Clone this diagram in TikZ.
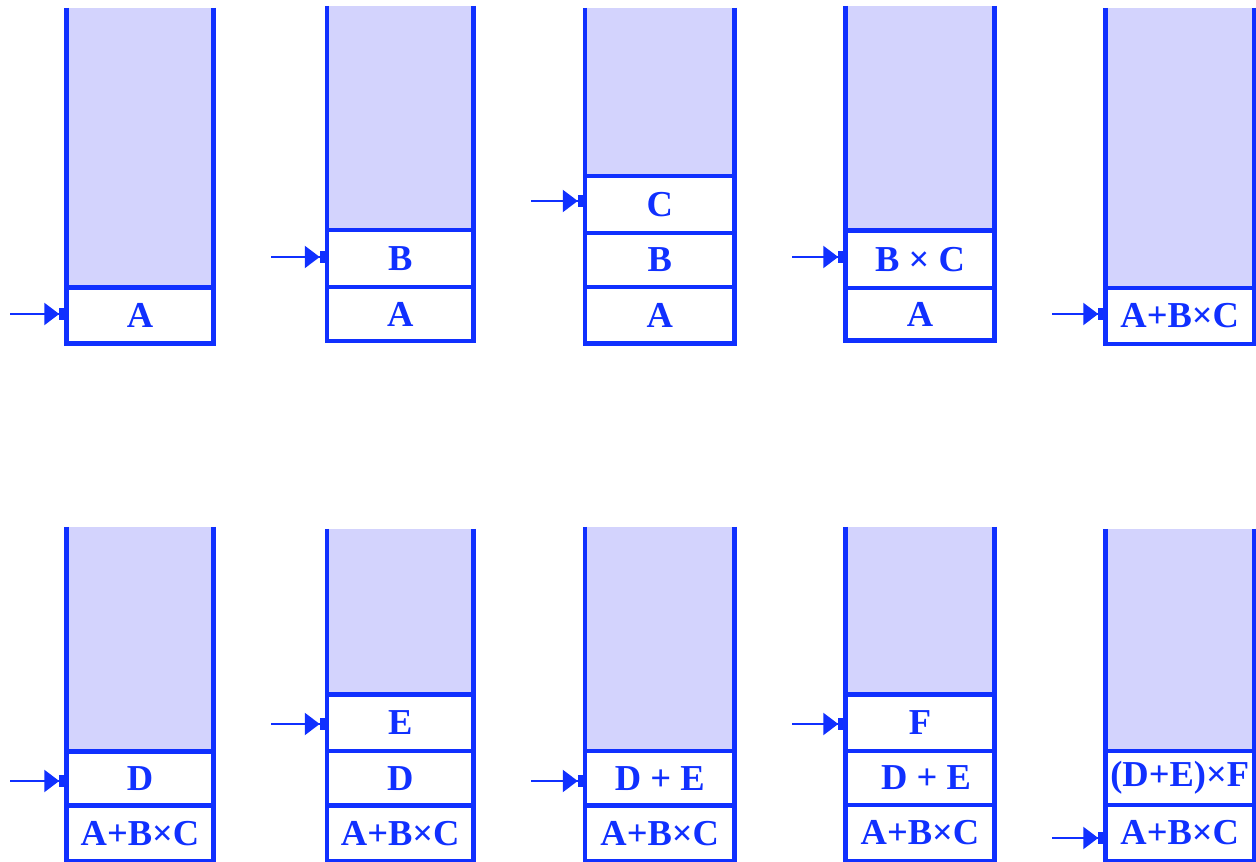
\documentclass[tikz,border=0pt]{standalone}
\usepackage{fontspec}
\setmainfont{Liberation Serif}
\usetikzlibrary{arrows.meta}
\definecolor{stackblue}{RGB}{16,48,255}
\definecolor{lavender}{RGB}{211,211,253}
\tikzset{
  cell/.style={draw=stackblue, line width=4.5pt, fill=white, rectangle, inner sep=0pt,
    text=stackblue, font=\fontsize{36.5}{40}\selectfont\bfseries},
  emptyfill/.style={fill=lavender},
  border/.style={draw=stackblue, line width=4.5pt},
  ptr/.style={draw=stackblue, line width=2.2pt,
    -{Triangle[length=15pt,width=22pt]Rectangle[length=5pt,width=12pt]}}
}
% \cellnode{name}{xl}{xr}{top}{bottom}{text}  (image coordinates, y downward)
\newcommand{\cellnode}[6]{%
  \node[cell, minimum width={#3-#2}, minimum height={#5-#4}] (#1)
    at ({(#2+#3)/2},{862-(#4+#5)/2}) {#6};}
% \emptypart{xl}{xr}{top}{bottom}
\newcommand{\emptypart}[4]{%
  \fill[emptyfill] (#1,{862-#3}) rectangle (#2,{862-#4});
  \draw[border] (#1,{862-#3}) -- (#1,{862-#4});
  \draw[border] (#2,{862-#3}) -- (#2,{862-#4});}
\begin{document}
\begin{tikzpicture}[x=1pt,y=1pt]
\useasboundingbox (0,0) rectangle (1256,862);
\fill[white] (0,0) rectangle (1256,862);
% ---------- Row 1 ----------
\emptypart{66.5}{213.5}{8}{287.5}
\cellnode{a1}{66.5}{213.5}{287.5}{343.5}{A}

\emptypart{327}{473.5}{6}{230}
\cellnode{b2}{327}{473.5}{230}{287}{B}
\cellnode{a2}{327}{473.5}{287}{341}{A}

\emptypart{585}{734.5}{8}{176}
\cellnode{c3}{585}{734.5}{176}{233}{C}
\cellnode{b3}{585}{734.5}{233}{287}{B}
\cellnode{a3}{585}{734.5}{287}{343.5}{A}

\emptypart{845.5}{994.5}{6}{230.5}
\cellnode{bc4}{845.5}{994.5}{230.5}{288}{B × C}
\cellnode{a4}{845.5}{994.5}{288}{340.5}{A}

\emptypart{1105.5}{1254}{8}{288}
\cellnode{x5a}{1105.5}{1254}{288}{344}{A+B×C}

% ---------- Row 2 ----------
\emptypart{66.5}{213.5}{527}{751.5}
\cellnode{d1}{66.5}{213.5}{751.5}{805.5}{D}
\cellnode{x1}{66.5}{213.5}{805.5}{861}{A+B×C}

\emptypart{327}{473.5}{529}{694.5}
\cellnode{e2}{327}{473.5}{694.5}{751}{E}
\cellnode{d2}{327}{473.5}{751}{805.5}{D}
\cellnode{x2}{327}{473.5}{805.5}{861}{A+B×C}

\emptypart{585}{734.5}{527}{751}
\cellnode{de3}{585}{734.5}{751}{805.5}{D + E}
\cellnode{x3}{585}{734.5}{805.5}{861}{A+B×C}

\emptypart{845.5}{994.5}{527}{694.5}
\cellnode{f4}{845.5}{994.5}{694.5}{751}{F}
\cellnode{de4}{845.5}{994.5}{751}{805}{\hspace*{12pt}D + E}
\cellnode{x4}{845.5}{994.5}{805}{861}{A+B×C}

\emptypart{1105.5}{1254}{529}{751}
\cellnode{def5}{1105.5}{1254}{751}{805}{(D+E)×F}
\cellnode{x5}{1105.5}{1254}{805}{861}{A+B×C}

% ---------- Pointers ----------
\coordinate (p1) at (10,{862-314});
\coordinate (p2) at (271,{862-257});
\coordinate (p3) at (531,{862-201});
\coordinate (p4) at (792,{862-257});
\coordinate (p5) at (1052,{862-314});
\coordinate (q1) at (10,{862-781});
\coordinate (q2) at (271,{862-724});
\coordinate (q3) at (531,{862-781});
\coordinate (q4) at (792,{862-724});
\coordinate (q5) at (1052,{862-838});
\draw[ptr] (p1) -- (p1 -| a1.west);
\draw[ptr] (p2) -- (p2 -| b2.west);
\draw[ptr] (p3) -- (p3 -| c3.west);
\draw[ptr] (p4) -- (p4 -| bc4.west);
\draw[ptr] (p5) -- (p5 -| x5a.west);
\draw[ptr] (q1) -- (q1 -| d1.west);
\draw[ptr] (q2) -- (q2 -| e2.west);
\draw[ptr] (q3) -- (q3 -| de3.west);
\draw[ptr] (q4) -- (q4 -| f4.west);
\draw[ptr] (q5) -- (q5 -| x5.west);
\end{tikzpicture}
\end{document}
